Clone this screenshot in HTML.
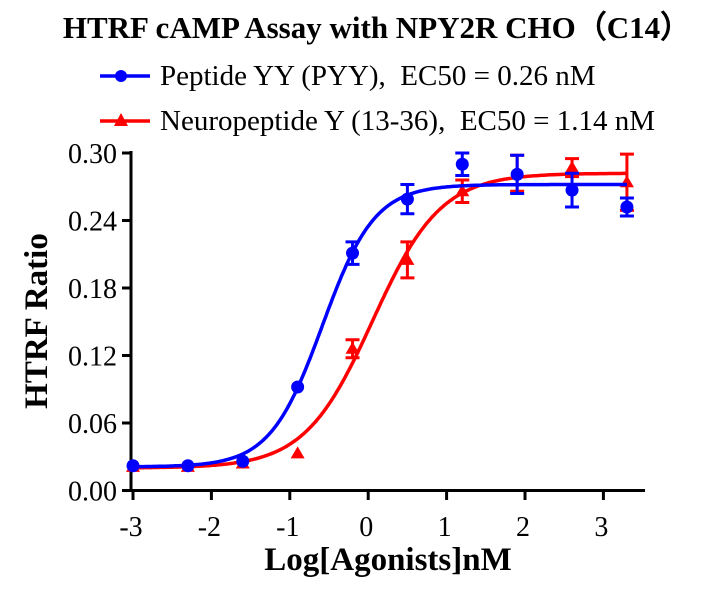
<!DOCTYPE html>
<html><head><meta charset="utf-8"><style>
html,body{margin:0;padding:0;background:#fff;width:706px;height:589px;overflow:hidden}
svg text{font-family:"Liberation Serif",serif}
</style></head><body>
<svg id="s" width="706" height="589" xmlns="http://www.w3.org/2000/svg">
<text x="377" y="38" text-anchor="middle" font-size="31" font-weight="bold">HTRF cAMP Assay with NPY2R CHO（C14）</text>
<line x1="100" y1="76" x2="150" y2="76" stroke="#0000ff" stroke-width="3.5"/>
<circle cx="121" cy="76" r="6" fill="#0000ff"/>
<text x="160" y="85" font-size="29">Peptide YY (PYY),&#160; EC50 = 0.26 nM</text>
<line x1="100" y1="121" x2="150" y2="121" stroke="#ff0000" stroke-width="3.5"/>
<polygon points="121,113 128,126 114,126" fill="#ff0000"/>
<text x="160" y="130" font-size="29">Neuropeptide Y (13-36),&#160; EC50 = 1.14 nM</text>
<g stroke="#000" stroke-width="3" fill="none">
<line x1="131" y1="151" x2="131" y2="492"/>
<line x1="129" y1="490.5" x2="645" y2="490.5"/>
</g>
<g id="ticks" stroke="#000" stroke-width="3"></g>
<g id="lab" font-size="28"></g>
<text transform="translate(47,321) rotate(-90)" text-anchor="middle" font-size="33" font-weight="bold">HTRF Ratio</text>
<text x="388" y="570" text-anchor="middle" font-size="33" font-weight="bold">Log[Agonists]nM</text>
<g id="plot"></g>
</svg>
<script>
var NS="http://www.w3.org/2000/svg";
function X(x){return 133+(x+3)*78.4}
function Y(v){return 490.5-v/0.3*337.5}
function el(p,t,a,txt){var e=document.createElementNS(NS,t);for(var k in a)e.setAttribute(k,a[k]);if(txt!==undefined)e.textContent=txt;document.getElementById(p).appendChild(e);return e}
for(var i=-3;i<=3;i++){el("ticks","line",{x1:X(i),y1:490,x2:X(i),y2:500});el("lab","text",{x:X(i)-2,y:536,"text-anchor":"middle"},String(i))}
var yl=["0.00","0.06","0.12","0.18","0.24","0.30"];
for(var j=0;j<6;j++){var y=Y(j*0.06);el("ticks","line",{x1:122,y1:y,x2:131,y2:y});el("lab","text",{x:117,y:y+10,"text-anchor":"end"},yl[j])}
function curve(b,t,ec,h,col){var d="";for(var x=-3;x<=3.301;x+=0.02){var v=b+(t-b)/(1+Math.pow(10,(ec-x)*h));d+=(d?"L":"M")+X(x).toFixed(1)+","+Y(v).toFixed(1)}el("plot","path",{d:d,stroke:col,"stroke-width":3.5,fill:"none"})}
var xs=[-3,-2.3,-1.6,-0.9,-0.2,0.5,1.2,1.9,2.6,3.3];
var red=[0.021,0.021,0.024,0.033,0.126,0.205,0.266,0.282,0.287,0.274];
var rerr=[0,0,0,0,0.008,0.016,0.01,0.016,0.008,0.025];
var blue=[0.022,0.022,0.026,0.092,0.211,0.259,0.29,0.281,0.267,0.252];
var berr=[0,0,0,0,0.01,0.013,0.01,0.017,0.015,0.008];
function errs(v,e,col){for(var i=0;i<xs.length;i++){if(!e[i])continue;var x=X(xs[i]),y1=Y(v[i]-e[i]),y2=Y(v[i]+e[i]);
el("plot","line",{x1:x,y1:y1,x2:x,y2:y2,stroke:col,"stroke-width":3});
el("plot","line",{x1:x-7,y1:y1,x2:x+7,y2:y1,stroke:col,"stroke-width":3});
el("plot","line",{x1:x-7,y1:y2,x2:x+7,y2:y2,stroke:col,"stroke-width":3});}}
errs(red,rerr,"#ff0000");
curve(0.020,0.282,0.057,1.0,"#ff0000");
for(var i=0;i<xs.length;i++){var x=X(xs[i]),y=Y(red[i]);el("plot","polygon",{points:x+","+(y-7)+" "+(x+7)+","+(y+5)+" "+(x-7)+","+(y+5),fill:"#ff0000"})}
errs(blue,berr,"#0000ff");
curve(0.021,0.272,-0.585,1.3,"#0000ff");
for(var i=0;i<xs.length;i++){el("plot","circle",{cx:X(xs[i]),cy:Y(blue[i]),r:6.5,fill:"#0000ff"})}
</script>
</body></html>
